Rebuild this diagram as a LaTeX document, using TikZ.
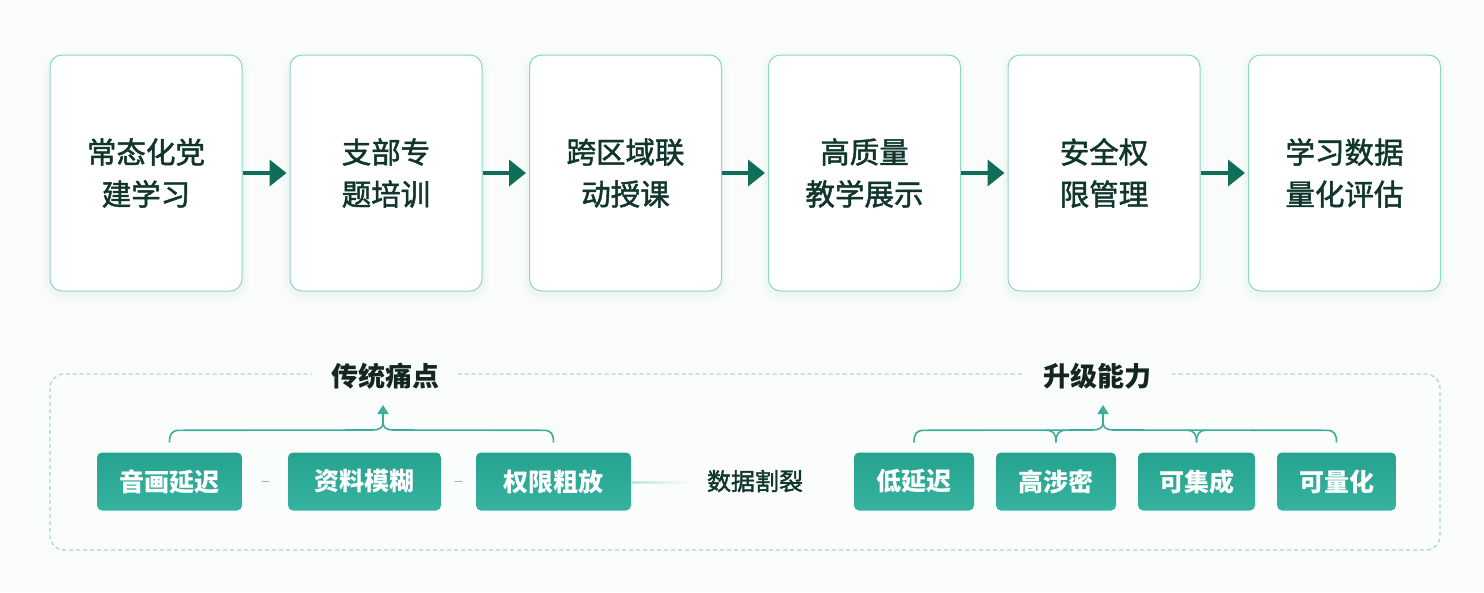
\documentclass[tikz,border=0pt]{standalone}
\usepackage{fontspec}
\setmainfont{Noto Sans CJK SC}
\newfontfamily\medfont[FakeBold=1.6]{Noto Sans CJK SC}
\usetikzlibrary{arrows.meta,calc}
\definecolor{bgc}{HTML}{FAFCFB}
\definecolor{boxline}{HTML}{8ED5C5}
\definecolor{boxtext}{HTML}{10362C}
\definecolor{flowc}{HTML}{0F6E58}
\definecolor{pillA}{HTML}{25A38E}
\definecolor{pillB}{HTML}{36B3A0}
\definecolor{bracec}{HTML}{3AAE9A}
\definecolor{titlec}{HTML}{13261F}
\definecolor{dashc}{HTML}{A6DCD1}
\definecolor{sepc}{HTML}{8FB8AE}
\definecolor{shadowc}{HTML}{6FA89B}
\begin{document}
\begin{tikzpicture}[x=1pt,y=-1pt,
  stage/.style={draw=boxline, line width=1pt, fill=white, rounded corners=12pt,
    minimum width=192pt, minimum height=236pt, align=center, text=boxtext,
    font=\medfont\fontsize{29.5}{42}\selectfont,
    preaction={draw=shadowc, line width=14pt, draw opacity=0.025, transform canvas={yshift=-4pt}},
    preaction={draw=shadowc, line width=7pt, draw opacity=0.04, transform canvas={yshift=-3pt}}},
  flow/.style={draw=flowc, line width=4pt, -{Triangle[length=17pt,width=26pt]}, shorten >=3pt},
  pill/.style={rounded corners=5pt, top color=pillA, bottom color=pillB, draw=none,
    minimum height=58pt, text=white, font=\fontsize{25}{30}\selectfont\bfseries},
  grouptitle/.style={fill=bgc, inner xsep=19pt, inner ysep=4pt, text=titlec,
    font=\fontsize{27}{32}\selectfont\bfseries},
  brace/.style={draw=bracec, line width=1.6pt},
  sep/.style={draw=sepc, line width=1.6pt},
  dashbox/.style={draw=dashc, line width=1.3pt, dash pattern=on 4pt off 3pt, rounded corners=14pt}
]
\useasboundingbox (0,0) rectangle (1484,592);
\fill[bgc] (0,0) rectangle (1484,592);

% top flow
\node[stage] (s1) at (146,173) {常态化党\\建学习};
\node[stage] (s2) at (386,173) {支部专\\题培训};
\node[stage] (s3) at (625.5,173) {跨区域联\\动授课};
\node[stage] (s4) at (864.5,173) {高质量\\教学展示};
\node[stage] (s5) at (1104,173) {安全权\\限管理};
\node[stage] (s6) at (1344.5,173) {学习数据\\量化评估};
\draw[flow] (s1.east) -- (s2.west);
\draw[flow] (s2.east) -- (s3.west);
\draw[flow] (s3.east) -- (s4.west);
\draw[flow] (s4.east) -- (s5.west);
\draw[flow] (s5.east) -- (s6.west);

% bottom container
\draw[dashbox, fill=white, fill opacity=0.35] (50,374) rectangle (1440,550);
\node[grouptitle] (t1) at (385,376) {传统痛点};
\node[grouptitle] (t2) at (1097,376) {升级能力};

% pain points
\node[pill, minimum width=145pt] (a1) at (169.5,481.5) {音画延迟};
\node[pill, minimum width=153pt] (a2) at (364.5,481.5) {资料模糊};
\node[pill, minimum width=155pt] (a3) at (553.5,481.5) {权限粗放};
\draw[sep] ($(a1.east)!0.5!(a2.west)+(-3.5,0)$) -- ++(7,0);
\draw[sep] ($(a2.east)!0.5!(a3.west)+(-3.5,0)$) -- ++(7,0);
\node[text=boxtext, font=\medfont\fontsize{24}{28}\selectfont] (d) at (755,481) {数据割裂};
\shade[left color=boxline!60, right color=bgc] (a3.east) rectangle ++(58,1.6);

% capabilities
\node[pill, minimum width=120pt] (b1) at (914,481.5) {低延迟};
\node[pill, minimum width=120pt] (b2) at (1056,481.5) {高涉密};
\node[pill, minimum width=117pt] (b3) at (1196.5,481.5) {可集成};
\node[pill, minimum width=119pt] (b4) at (1336.5,481.5) {可量化};

% left brace
\coordinate (la) at ($(a1.north)+(0,-10)$);
\coordinate (lb) at ($(a3.north)+(0,-10)$);
\coordinate (lc) at (383,423);
\coordinate (lt) at (383,405);
\draw[brace] (la) .. controls ($(la)+(0,-8)$) and ($(la)+(2,-12)$) .. ($(la)+(10,-12)$)
  -- ($(lc)+(-10,7)$) .. controls ($(lc)+(-3,7)$) and ($(lc)+(0,4)$) .. (lc);
\draw[brace] (lb) .. controls ($(lb)+(0,-8)$) and ($(lb)+(-2,-12)$) .. ($(lb)+(-10,-12)$)
  -- ($(lc)+(10,7)$) .. controls ($(lc)+(3,7)$) and ($(lc)+(0,4)$) .. (lc);
\draw[brace, -{Triangle[length=9pt,width=11pt]}] (lc) -- (lt);

% right brace
\coordinate (ra) at ($(b1.north)+(0,-10)$);
\coordinate (rb) at ($(b4.north)+(0,-10)$);
\coordinate (rm1) at ($(b2.north)+(0,-10)$);
\coordinate (rm2) at ($(b3.north)+(0,-10)$);
\coordinate (rc) at (1103,423);
\coordinate (rt) at (1103,405);
\draw[brace] (ra) .. controls ($(ra)+(0,-8)$) and ($(ra)+(2,-12)$) .. ($(ra)+(10,-12)$)
  -- ($(rc)+(-10,7)$) .. controls ($(rc)+(-3,7)$) and ($(rc)+(0,4)$) .. (rc);
\draw[brace] (rb) .. controls ($(rb)+(0,-8)$) and ($(rb)+(-2,-12)$) .. ($(rb)+(-10,-12)$)
  -- ($(rc)+(10,7)$) .. controls ($(rc)+(3,7)$) and ($(rc)+(0,4)$) .. (rc);
\foreach \m in {rm1,rm2}{
  \draw[brace] (\m) .. controls ($(\m)+(0,-8)$) and ($(\m)+(-2,-12)$) .. ($(\m)+(-10,-12)$);
  \draw[brace] (\m) .. controls ($(\m)+(0,-8)$) and ($(\m)+(2,-12)$) .. ($(\m)+(10,-12)$);
}
\draw[brace, -{Triangle[length=9pt,width=11pt]}] (rc) -- (rt);
\end{tikzpicture}
\end{document}
